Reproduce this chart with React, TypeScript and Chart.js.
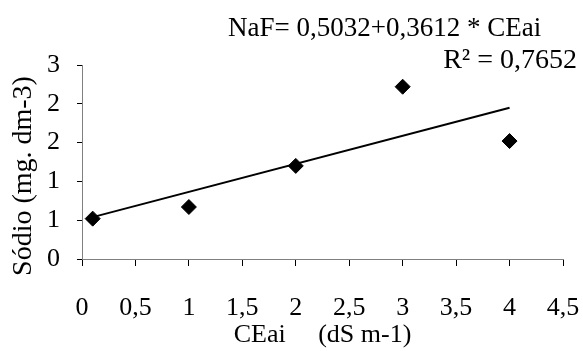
import React, { useEffect, useRef } from "react";
import { Chart, registerables } from "chart.js";

Chart.register(...registerables);

const ceai: number[] = [0.1, 1, 2, 3, 4];
const sodio: number[] = [0.52, 0.67, 1.2, 2.22, 1.52];
const trendIntercept = 0.5032;
const trendSlope = 0.3612;
const trendRange: number[] = [0.1, 4];
const equationText = "NaF= 0,5032+0,3612 * CEai";
const r2Text = "R² = 0,7652";
const xTitle = "CEai     (dS m-1)";
const yTitle = "Sódio (mg. dm-3)";

const FONT = "'Liberation Serif', 'Times New Roman', serif";

export default function App() {
  const ref = useRef<HTMLCanvasElement | null>(null);
  useEffect(() => {
    document.body.style.margin = "0";
    const canvas = ref.current;
    if (!canvas) return;
    const textPlugin = {
      id: "eqText",
      afterDraw(chart: any) {
        const ctx = chart.ctx;
        ctx.save();
        ctx.fillStyle = "#000";
        ctx.font = `27px ${FONT}`;
        ctx.textBaseline = "alphabetic";
        ctx.textAlign = "left";
        ctx.fillText(equationText, 228, 36);
        ctx.font = `28px ${FONT}`;
        ctx.textAlign = "right";
        ctx.fillText(r2Text, 577, 68);
        // y-axis title
        ctx.font = `28px ${FONT}`;
        ctx.translate(24, 176);
        ctx.rotate(-Math.PI / 2);
        ctx.textAlign = "center";
        ctx.textBaseline = "middle";
        ctx.fillText(yTitle, 0, 0);
        ctx.restore();
      },
    };
    const chart = new Chart(canvas, {
      type: "scatter",
      data: {
        datasets: [
          {
            label: "Sódio",
            data: ceai.map((x, i) => ({ x, y: sodio[i] })),
            pointStyle: "rectRot",
            pointRadius: 7.5,
            pointBackgroundColor: "#000",
            pointBorderColor: "#000",
            showLine: false,
          },
          {
            label: "Trend",
            type: "line",
            data: trendRange.map((x) => ({ x, y: trendIntercept + trendSlope * x })),
            borderColor: "#000",
            borderWidth: 2,
            pointRadius: 0,
            fill: false,
          } as any,
        ],
      },
      options: {
        animation: false,
        responsive: false,
        layout: { padding: { top: 65, right: 0, left: 0, bottom: 0 } },
        plugins: { legend: { display: false }, tooltip: { enabled: false } },
        scales: {
          x: {
            type: "linear",
            min: 0,
            max: 4.5,
            ticks: {
              stepSize: 0.5,
              color: "#000",
              font: { family: FONT, size: 26 },
              padding: 27,
              maxRotation: 0,
              callback: (v: any) => String(v).replace(".", ","),
            },
            grid: { display: true, drawOnChartArea: false, color: "#000", tickLength: 7 },
            border: { display: true, color: "#808080", width: 1 },
            title: {
              display: true,
              text: xTitle,
              color: "#000",
              font: { family: FONT, size: 26 },
              padding: { top: 0, bottom: 0 },
            },
            afterFit: (scale: any) => {
              scale.height = 351 - 259;
              scale.paddingLeft = 0;
              scale.paddingRight = 20;
            },
          },
          y: {
            type: "linear",
            min: 0,
            max: 2.5,
            ticks: {
              stepSize: 0.5,
              color: "#000",
              font: { family: FONT, size: 26 },
              padding: 17,
              callback: (v: any) => String(Math.round(Number(v))),
            },
            grid: { display: true, drawOnChartArea: false, color: "#000", tickLength: 5 },
            border: { display: true, color: "#808080", width: 1 },
            afterFit: (scale: any) => {
              scale.width = 82;
            },
          },
        },
      },
      plugins: [textPlugin],
    });
    return () => chart.destroy();
  }, []);
  return (
    <div style={{ width: 583, height: 351, background: "#fff" }}>
      <canvas ref={ref} width={583} height={351} style={{ display: "block" }} />
    </div>
  );
}
